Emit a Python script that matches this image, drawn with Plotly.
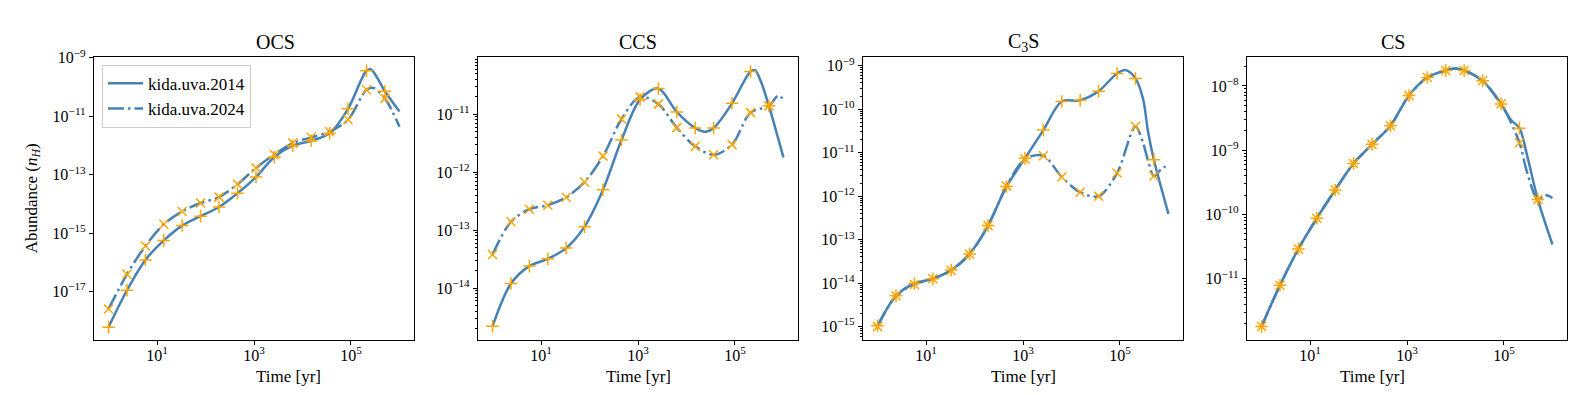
import plotly.graph_objects as go

# marker times (every 10th sample of the model time grid)
T_MARK = [1.0, 2.4, 5.75, 13.8, 33, 79, 190, 457, 1100, 2630,
          6300, 15100, 36300, 87000, 2.09e5, 5.01e5]

TITLES = ["OCS", "CCS", "C<sub>3</sub>S", "CS"]
X_TICKS = [10, 1000, 1e5]
X_TICKTEXT = ["10<sup>1</sup>", "10<sup>3</sup>", "10<sup>5</sup>"]

# ---- OCS ----
ocs_2014 = [6.0e-19, 1.1e-17, 1.2e-16, 5.6e-16, 1.8e-15, 3.8e-15, 7.8e-15, 2.3e-14,
            8.3e-14, 4.0e-13, 9.8e-13, 1.45e-12, 2.6e-12, 1.8e-11, 3.6e-10, 7.2e-11]
ocs_2014_xt = [2.6e5, 1.0e6]
ocs_2014_xy = [4.0e-10, 1.45e-11]
ocs_2024 = [2.5e-18, 3.9e-17, 3.6e-16, 2.0e-15, 5.5e-15, 1.07e-14, 1.7e-14, 4.7e-14,
            1.7e-13, 4.9e-13, 1.2e-12, 1.9e-12, 2.95e-12, 7.6e-12, 8.1e-11, 4.1e-11]
ocs_2024_xt = [2.9e5, 1.0e6]
ocs_2024_xy = [9.3e-11, 4.4e-12]

# ---- CCS ----
ccs_2014 = [2.2e-15, 1.2e-14, 2.4e-14, 3.2e-14, 4.9e-14, 1.15e-13, 5.0e-13, 3.6e-12,
            1.8e-11, 2.8e-11, 1.1e-11, 5.8e-12, 5.8e-12, 1.55e-11, 5.5e-11, 1.4e-11]
ccs_2014_xt = [2.4e4, 2.6e5, 3.5e5, 1.0e6]
ccs_2014_xy = [5.0e-12, 5.8e-11, 3.5e-11, 1.8e-12]
ccs_2024 = [3.8e-14, 1.4e-13, 2.3e-13, 2.7e-13, 3.7e-13, 6.8e-13, 1.9e-12, 8.3e-12,
            2.0e-11, 1.5e-11, 5.9e-12, 2.8e-12, 2.0e-12, 3.0e-12, 1.07e-11, 1.4e-11]
ccs_2024_xt = [7.8e5, 1.0e6]
ccs_2024_xy = [2.1e-11, 1.8e-11]

# ---- C3S ----
c3s_2014 = [1.05e-15, 5.1e-15, 9.8e-15, 1.26e-14, 2.0e-14, 4.7e-14, 2.1e-13, 1.66e-12,
            7.4e-12, 3.3e-11, 1.5e-10, 1.6e-10, 2.6e-10, 6.6e-10, 5.1e-10, 6.9e-12]
c3s_2014_xt = [1.3e5, 3.0e5, 3.8e5, 1.0e6]
c3s_2014_xy = [7.9e-10, 1.7e-10, 3.0e-11, 3.9e-13]
c3s_2024 = [1.0e-15, 5.1e-15, 9.3e-15, 1.26e-14, 1.95e-14, 4.6e-14, 2.1e-13, 1.7e-12,
            7.1e-12, 8.5e-12, 2.75e-12, 1.23e-12, 1.0e-12, 3.4e-12, 4.0e-11, 2.9e-12]
c3s_2024_xt = [3.0e5, 3.8e5, 7.8e5, 1.0e6]
c3s_2024_xy = [1.66e-11, 6.5e-12, 4.6e-12, 4.8e-12]

# ---- CS ----
cs_2014 = [1.8e-12, 7.9e-12, 2.9e-11, 8.7e-11, 2.4e-10, 6.2e-10, 1.23e-9, 2.4e-9,
           7.1e-9, 1.35e-8, 1.74e-8, 1.74e-8, 1.2e-8, 5.25e-9, 2.2e-9, 1.7e-10]
cs_2014_xt = [1.0e4, 1.4e5, 3.0e5, 1.0e6]
cs_2014_xy = [1.86e-8, 2.95e-9, 8.3e-10, 3.4e-11]
cs_2024 = [1.8e-12, 7.9e-12, 2.9e-11, 8.7e-11, 2.4e-10, 6.2e-10, 1.23e-9, 2.4e-9,
           7.1e-9, 1.35e-8, 1.74e-8, 1.74e-8, 1.2e-8, 5.25e-9, 1.3e-9, 1.7e-10]
cs_2024_xt = [1.0e4, 1.2e5, 3.0e5, 7.0e5, 1.0e6]
cs_2024_xy = [1.86e-8, 3.4e-9, 4.5e-10, 2.0e-10, 1.8e-10]

PANELS = [
    (ocs_2014, ocs_2014_xt, ocs_2014_xy, ocs_2024, ocs_2024_xt, ocs_2024_xy),
    (ccs_2014, ccs_2014_xt, ccs_2014_xy, ccs_2024, ccs_2024_xt, ccs_2024_xy),
    (c3s_2014, c3s_2014_xt, c3s_2014_xy, c3s_2024, c3s_2024_xt, c3s_2024_xy),
    (cs_2014, cs_2014_xt, cs_2014_xy, cs_2024, cs_2024_xt, cs_2024_xy),
]

Y_RANGES = [[-18.65, -8.97], [-14.89, -10.01], [-15.3, -8.8], [-11.95, -7.55]]
Y_MAJOR = [[-9, -11, -13, -15, -17], [-11, -12, -13, -14],
           [-9, -10, -11, -12, -13, -14, -15], [-8, -9, -10, -11]]
Y_MINOR = [False, True, True, True]

W, H = 1578, 395
PANEL_LEFT = [86, 470, 855, 1239]
PANEL_W = 320
TOP, BOTTOM = 40, 330

BLUE = "#4682B4"
ORANGE = "#FFA500"
FONT = "Liberation Serif"


def merge(t_a, y_a, t_b, y_b):
    pts = sorted(zip(list(t_a) + list(t_b), list(y_a) + list(y_b)))
    return [p[0] for p in pts], [p[1] for p in pts]


fig = go.Figure()

for i, (y14, xt14, xy14, y24, xt24, xy24) in enumerate(PANELS):
    n = "" if i == 0 else str(i + 1)
    xa, ya = "x" + n, "y" + n

    t, y = merge(T_MARK, y14, xt14, xy14)
    fig.add_trace(go.Scatter(x=t, y=y, mode="lines", xaxis=xa, yaxis=ya,
                             line=dict(color=BLUE, width=2.5, shape="spline", smoothing=0.9),
                             name="kida.uva.2014", showlegend=(i == 0)))
    t, y = merge(T_MARK, y24, xt24, xy24)
    fig.add_trace(go.Scatter(x=t, y=y, mode="lines", xaxis=xa, yaxis=ya,
                             line=dict(color=BLUE, width=2.5, shape="spline", smoothing=0.9,
                                       dash="16px,4px,2.5px,4px"),
                             name="kida.uva.2024", showlegend=(i == 0)))
    fig.add_trace(go.Scatter(x=T_MARK, y=y14, mode="markers", xaxis=xa, yaxis=ya,
                             marker=dict(symbol="cross-thin", size=9,
                                         line=dict(color=ORANGE, width=1.5)),
                             showlegend=False))
    fig.add_trace(go.Scatter(x=T_MARK, y=y24, mode="markers", xaxis=xa, yaxis=ya,
                             marker=dict(symbol="x-thin", size=9,
                                         line=dict(color=ORANGE, width=1.5)),
                             showlegend=False))

    x0 = PANEL_LEFT[i] / W
    x1 = (PANEL_LEFT[i] + PANEL_W) / W
    axis_common = dict(showline=True, mirror=True, linecolor="black", linewidth=1.2,
                       showgrid=False, zeroline=False, ticks="outside", ticklen=4,
                       tickwidth=1, tickcolor="black",
                       tickfont=dict(family=FONT, size=16, color="black"))
    fig.layout["xaxis" + n] = dict(domain=[x0, x1], anchor=ya, type="log",
                                   range=[-0.3, 6.3], tickvals=X_TICKS,
                                   ticktext=X_TICKTEXT, ticklabelstandoff=-3,
                                   **axis_common)

    minor = dict(ticks="")
    if Y_MINOR[i]:
        mv = []
        for e in range(-19, -6):
            for m in range(2, 10):
                mv.append(m * 10.0 ** e)
        minor = dict(ticks="outside", ticklen=2, tickwidth=0.8, tickcolor="black",
                     tickvals=mv)
    fig.layout["yaxis" + n] = dict(domain=[1 - BOTTOM / H, 1 - TOP / H], anchor=xa,
                                   type="log", range=Y_RANGES[i],
                                   tickvals=[10.0 ** e for e in Y_MAJOR[i]],
                                   ticktext=["10<sup>\u2212%d</sup>" % (-e) for e in Y_MAJOR[i]],
                                   minor=minor, **axis_common)

    cx = (PANEL_LEFT[i] + PANEL_W / 2) / W
    fig.add_annotation(x=cx, y=1 - 25 / H, xref="paper", yref="paper",
                       text=TITLES[i], showarrow=False, yanchor="middle",
                       font=dict(family=FONT, size=20, color="black"))
    fig.add_annotation(x=cx, y=1 - 368 / H, xref="paper", yref="paper",
                       text="Time [yr]", showarrow=False, yanchor="middle",
                       font=dict(family=FONT, size=17, color="black"))

fig.add_annotation(x=25 / W, y=1 - 185 / H, xref="paper", yref="paper",
                   text="Abundance (<i>n</i><sub><i>H</i></sub>)", showarrow=False,
                   textangle=-90, xanchor="center", yanchor="middle",
                   font=dict(family=FONT, size=17, color="black"))

fig.update_layout(
    width=W, height=H,
    margin=dict(l=0, r=0, t=0, b=0),
    paper_bgcolor="white", plot_bgcolor="white",
    font=dict(family=FONT, color="black"),
    legend=dict(x=94 / W, y=1 - 48 / H, xanchor="left", yanchor="top",
                bgcolor="rgba(255,255,255,0.85)", bordercolor="#cccccc", borderwidth=1,
                font=dict(family=FONT, size=17, color="black"), itemwidth=35,
                tracegroupgap=0),
)

fig.write_html("out.html")
